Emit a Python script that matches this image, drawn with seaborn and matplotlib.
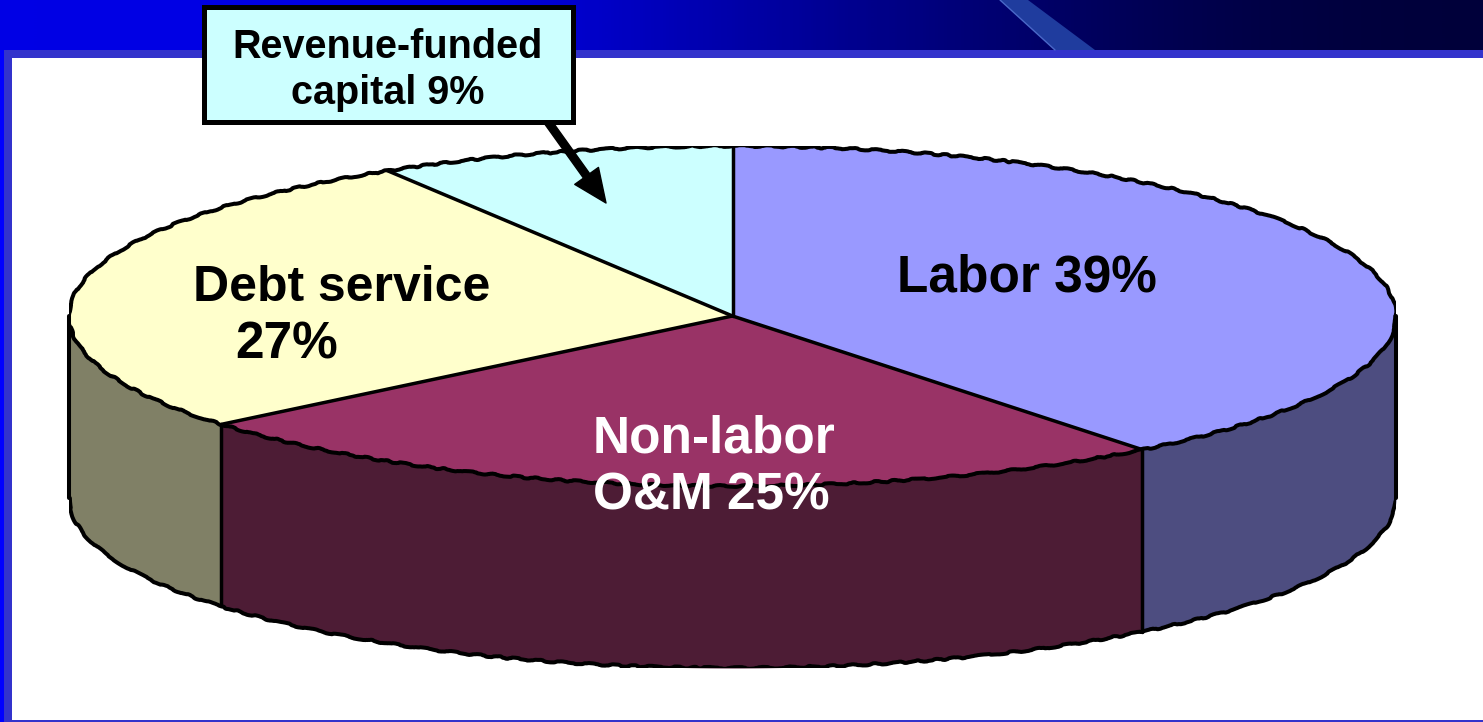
import numpy as np
import matplotlib
matplotlib.use('Agg')
import matplotlib.pyplot as plt
from matplotlib.colors import LinearSegmentedColormap
import seaborn as sns

sns.set_theme(style='white')
plt.rcParams['font.family'] = ['Liberation Sans', 'DejaVu Sans']

# values, clockwise from 12 o'clock (slice sizes estimated, labels round them)
categories = ['Labor', 'Non-labor O&M', 'Debt service', 'Revenue-funded capital']
shares = [39.4, 24.6, 27.3, 8.7]

top_colors = sns.color_palette(['#9999FF', '#993366', '#FFFFCC', '#CCFFFF'])
side_colors = sns.color_palette(['#4D4D80', '#4D1C35', '#808066', '#66807F'])
band_stops = ['#0000E6', '#0000E0', '#0000A8', '#000070', '#000030']

W, H = 1483, 722
DEPTH = 182 / 170  # wall height in pie units (top ellipse is 170 px tall per unit)
LINE = 2.9

fig = plt.figure(figsize=(W / 100, H / 100), dpi=100)

# ---- slide background, in pixel coordinates
bg = fig.add_axes([0, 0, 1, 1])
bg.set_xlim(0, W)
bg.set_ylim(H, 0)
bg.axis('off')
band = LinearSegmentedColormap.from_list('band', band_stops)
bg.imshow([[0, 1]], cmap=band, extent=(0, W, 50, 0), aspect='auto', interpolation='bicubic')
bg.set_xlim(0, W)
bg.set_ylim(H, 0)
bg.fill([1000, 1028, 1095, 1055], [0, 0, 50, 50], color='#1F3C9E', lw=0)
bg.plot([1000, 1055], [0, 50], color='#4A68C8', lw=1)
bg.fill([0, W, W, 0], [50, 50, H, H], color='#0000FF', lw=0)
bg.fill([4, W, W, 4], [50, 50, H, H], color='#3333CC', lw=0)
bg.fill([12, W, W, 12], [58, 58, 720, 720], color='white', lw=0)

# ---- pie: a flattened top ellipse plus a wall below it
px_left, px_right, px_top = 69, 1396, 146
px_bottom = px_top + 170 * (2 + DEPTH)
pie_ax = fig.add_axes([px_left / W, 1 - px_bottom / H,
                       (px_right - px_left) / W, (px_bottom - px_top) / H])
pie_ax.patch.set_alpha(0)

wedges, _ = pie_ax.pie(shares, colors=top_colors, startangle=90, counterclock=False,
                       wedgeprops={'linewidth': 0})
pie_ax.set_aspect('auto')
pie_ax.set_xlim(-1, 1)
pie_ax.set_ylim(-1 - DEPTH, 1)
pie_ax.axis('off')

edges = 90 - np.cumsum([0] + shares) * 3.6


def sketchy(line):
    line.set_sketch_params(scale=0.9, length=38, randomness=6)


for i in range(len(shares)):
    t0 = np.clip(edges[i], -180, 0)
    t1 = np.clip(edges[i + 1], -180, 0)
    if t0 != t1:
        th = np.radians(np.linspace(t0, t1, 120))
        pie_ax.fill_between(np.cos(th), np.sin(th), np.sin(th) - DEPTH,
                            color=side_colors[i], lw=0, zorder=2)
        low, = pie_ax.plot(np.cos(th), np.sin(th) - DEPTH, color='black', lw=LINE, zorder=4)
        sketchy(low)

th = np.radians(np.linspace(0, 360, 500))
rim, = pie_ax.plot(np.cos(th), np.sin(th), color='black', lw=LINE, zorder=4)
sketchy(rim)

for e in np.radians(edges[:-1]):
    pie_ax.plot([0, np.cos(e)], [0, np.sin(e)], color='black', lw=LINE - 0.4, zorder=4)
    if np.sin(e) < 0:
        pie_ax.plot([np.cos(e)] * 2, [np.sin(e), np.sin(e) - DEPTH], color='black',
                    lw=LINE - 0.4, zorder=4)
for side in [-1, 1]:
    pie_ax.plot([side, side], [0, -DEPTH], color='black', lw=LINE, zorder=4, clip_on=False)

# ---- labels and callout on a clear overlay
ov = fig.add_axes([0, 0, 1, 1])
ov.set_xlim(0, W)
ov.set_ylim(H, 0)
ov.axis('off')

big = {'fontsize': 37, 'fontweight': 'bold', 'va': 'center', 'ha': 'left'}
ov.text(897, 278, 'Labor 39%', color='black', **big)
ov.text(193, 288, 'Debt service', color='black', fontsize=36, fontweight='bold', va='center')
ov.text(235, 345, '27%', color='black', **big)
ov.text(593, 439, 'Non-labor', color='white', **big)
ov.text(593, 496, 'O&M 25%', color='white', **big)

ov.annotate('', xy=(606, 203), xytext=(548, 122),
            arrowprops={'width': 5.5, 'headwidth': 21, 'headlength': 24, 'color': 'black',
                        'shrink': 0}, zorder=5)
ov.fill([204, 573, 573, 204], [7, 7, 122, 122], facecolor='#CCFFFF', edgecolor='black',
        lw=3.6, zorder=6)
ov.text(388, 47, 'Revenue-funded', fontsize=28.5, fontweight='bold', color='black',
        ha='center', va='center', zorder=7)
ov.text(388, 93, 'capital 9%', fontsize=28.5, fontweight='bold', color='black',
        ha='center', va='center', zorder=7)

fig.savefig('out.png', dpi=100)
